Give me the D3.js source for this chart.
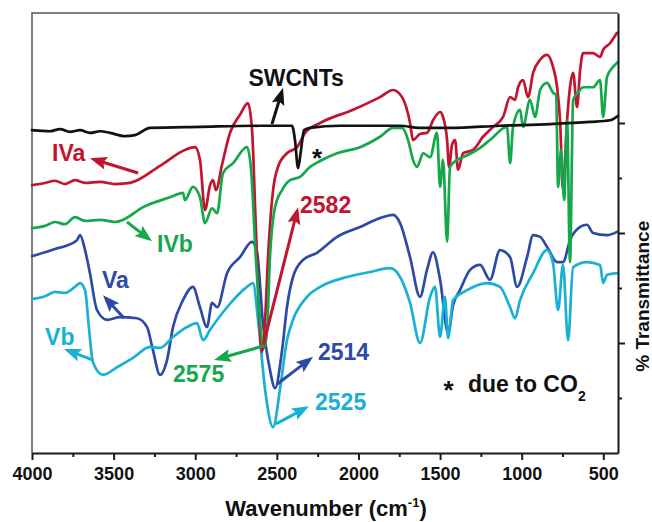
<!DOCTYPE html>
<html>
<head>
<meta charset="utf-8">
<script src="https://cdn.jsdelivr.net/npm/d3@7"></script>
<style>
  body { margin: 0; background: #fff; }
  svg { display: block; }
  text { font-family: "Liberation Sans", Arial, Helvetica, sans-serif; }
</style>
</head>
<body>
<script>
  // IR spectra: [wavenumber (cm-1), % transmittance (offset, arbitrary)]
  const swcnts = [[4000,58.7],[3890,58.5],[3828,58.9],[3767,58.4],[3706,58.7],[3645,58.2],[3583,58.5],[3522,58.2],
    [3430,57.6],[3369,57.8],[3277,59.1],[2971,59.3],[2603,59.5],[2407,59.5],[2389,56.9],[2370,51.8],[2352,55.1],
    [2333,58.7],[2297,59.1],[2113,59.5],[1745,59.5],[1623,59.1],[1439,59.1],[1133,59.5],[826,59.8],[581,60.2],
    [459,60.5],[410,61.3]];

  const iva = [[4000,48.7],[3920,49.1],[3859,49.5],[3798,48.9],[3737,49.6],[3675,49.1],[3583,49.3],[3491,48.9],
    [3400,49.1],[3216,52.2],[3063,55.1],[3001,55.6],[2971,53.3],[2940,44.2],[2909,48.7],[2891,49.6],[2873,47.8],
    [2836,52.4],[2787,58.2],[2726,61.5],[2677,63.6],[2652,58.7],[2628,40.5],[2591,18.4],[2572,24.2],[2554,35.6],
    [2523,47.8],[2493,52.0],[2438,54.5],[2376,55.6],[2327,58.2],[2235,60.0],[2033,62.4],[1868,64.7],[1788,66.0],
    [1733,64.7],[1684,60.0],[1666,56.9],[1623,58.0],[1580,58.2],[1543,60.5],[1500,62.0],[1482,61.1],[1457,56.9],
    [1445,52.0],[1427,56.0],[1408,56.9],[1390,51.5],[1359,54.5],[1298,55.1],[1237,57.5],[1175,59.3],[1114,61.1],
    [1071,64.7],[1041,64.2],[1022,66.5],[992,67.8],[961,64.7],[930,69.1],[887,71.5],[845,72.4],[808,70.2],
    [783,66.5],[765,60.5],[747,47.8],[722,60.5],[704,66.5],[685,69.1],[661,62.9],[642,69.6],[624,72.7],
    [563,72.7],[520,72.0],[501,73.3],[459,74.5],[416,76.4]];

  const ivb = [[4000,40.9],[3920,41.3],[3859,42.0],[3798,41.6],[3737,42.9],[3675,42.2],[3583,42.4],[3491,42.0],
    [3442,42.4],[3320,44.7],[3154,46.5],[3075,47.3],[3063,46.0],[3014,48.4],[2971,46.5],[2940,41.8],[2897,44.5],
    [2866,43.6],[2830,50.9],[2768,52.7],[2683,55.6],[2658,51.5],[2628,35.1],[2578,19.1],[2560,22.4],[2542,35.6],
    [2511,44.7],[2468,47.8],[2419,49.6],[2358,50.2],[2297,52.0],[2235,53.1],[2131,54.5],[1990,55.6],[1868,57.5],
    [1788,59.1],[1733,59.1],[1696,56.9],[1666,53.3],[1641,52.0],[1604,54.5],[1561,53.8],[1519,58.2],[1500,48.4],
    [1482,53.3],[1457,38.4],[1439,52.0],[1396,53.3],[1359,53.8],[1273,55.1],[1194,56.9],[1090,59.3],[1071,52.7],
    [1053,59.3],[1010,62.4],[992,59.3],[949,64.2],[918,61.1],[887,66.0],[845,67.3],[808,65.5],[789,65.1],
    [777,48.4],[759,55.1],[740,46.0],[722,60.5],[704,34.7],[685,64.2],[655,65.5],[624,66.5],[563,66.5],
    [520,67.8],[501,61.1],[477,68.4],[440,70.2],[410,71.1]];

  const va = [[4000,35.8],[3920,36.5],[3859,37.1],[3798,37.6],[3724,38.7],[3706,39.6],[3675,36.9],[3645,32.7],
    [3602,26.0],[3540,24.2],[3461,24.7],[3357,24.5],[3295,22.9],[3259,18.7],[3216,14.2],[3173,16.9],[3136,22.9],
    [3075,27.8],[3014,30.2],[2971,26.5],[2928,22.9],[2897,27.3],[2866,26.5],[2805,32.7],[2726,35.6],[2652,38.4],
    [2621,36.4],[2585,23.6],[2542,15.1],[2511,11.8],[2468,18.7],[2438,26.5],[2401,32.0],[2340,35.1],[2254,36.4],
    [2131,39.3],[1990,41.1],[1868,42.7],[1788,43.3],[1745,41.8],[1684,35.6],[1623,28.4],[1580,33.3],[1543,36.5],
    [1500,31.5],[1451,21.8],[1420,26.9],[1378,29.6],[1316,33.3],[1255,34.2],[1194,31.5],[1133,36.9],[1071,35.6],
    [1028,30.2],[967,35.6],[930,39.6],[887,39.3],[845,37.5],[783,34.7],[747,34.7],[704,38.7],[642,41.1],
    [600,41.5],[563,40.0],[477,39.6],[416,40.2]];

  const vb = [[4000,28.0],[3920,28.5],[3859,29.3],[3798,29.1],[3737,30.2],[3706,30.9],[3675,29.6],[3651,22.7],
    [3626,16.4],[3565,14.2],[3479,15.6],[3381,17.3],[3277,19.3],[3216,19.1],[3136,21.1],[3050,22.9],[2989,23.6],
    [2952,20.5],[2909,22.4],[2805,26.5],[2683,30.2],[2646,30.9],[2615,24.2],[2572,11.5],[2523,4.7],[2481,11.5],
    [2438,20.5],[2401,24.2],[2315,28.4],[2235,30.2],[2070,32.0],[1929,32.9],[1807,33.6],[1745,32.0],[1684,27.3],
    [1623,20.0],[1561,28.4],[1531,30.2],[1500,21.1],[1470,28.4],[1451,20.9],[1420,27.8],[1335,29.6],[1212,30.9],
    [1133,30.2],[1071,26.5],[1041,24.5],[1010,27.8],[930,32.7],[845,36.9],[808,34.5],[777,26.0],[747,34.2],
    [716,20.5],[685,33.8],[600,34.7],[520,34.2],[501,30.9],[477,32.4],[416,32.7]];

  const xTicks = [4000, 3500, 3000, 2500, 2000, 1500, 1000, 500];
  const xMinorTicks = [3750, 3250, 2750, 2250, 1750, 1250, 750];
  const yTicks = [20, 40, 60];
  const yMinorTicks = [10, 30, 50];

  // annotations: text, wavenumber, transmittance, series
  const labels = [
    {text: "SWCNTs", wn: 2382, t: 66.7, key: "swcnts", anchor: "middle"},
    {text: "IVa", wn: 3877, t: 53.1, key: "iva"},
    {text: "IVb", wn: 3234, t: 36.5, key: "ivb"},
    {text: "2582", wn: 2358, t: 43.6, key: "iva"},
    {text: "2575", wn: 3136, t: 12.9, key: "ivb"},
    {text: "2514", wn: 2248, t: 16.9, key: "va"},
    {text: "2525", wn: 2266, t: 7.8, key: "vb"},
    {text: "Va", wn: 3571, t: 30.0, key: "va"},
    {text: "Vb", wn: 3920, t: 19.6, key: "vb"}
  ];
  const arrows = [
    {from: [2530, 59.8], to: [2462, 66.4], key: "swcnts"},
    {from: [3350, 50.9], to: [3645, 53.6], key: "iva"},
    {from: [3418, 42.0], to: [3265, 38.5], key: "ivb"},
    {from: [2591, 18.7], to: [2370, 44.7], key: "iva"},
    {from: [2578, 19.5], to: [2885, 16.9], key: "ivb"},
    {from: [2499, 12.5], to: [2278, 17.5], key: "va"},
    {from: [2505, 5.3], to: [2303, 8.5], key: "vb"},
    {from: [3436, 24.5], to: [3565, 28.7], key: "va"},
    {from: [3626, 16.9], to: [3804, 18.9], key: "vb"}
  ];

  const colors = {swcnts: "#111111", iva: "#c3132f", ivb: "#14a84b", va: "#2c4aa6", vb: "#18b1d4"};

  var margin = {top: 13, right: 34, bottom: 69, left: 32},
      width = 652 - margin.left - margin.right,
      height = 522 - margin.top - margin.bottom;

  var svg = d3.select("body").append("svg")
      .attr("width", width + margin.left + margin.right)
      .attr("height", height + margin.top + margin.bottom)
    .append("g")
      .attr("transform", "translate(" + margin.left + "," + margin.top + ")");

  const x = d3.scaleLinear().domain([4000, 410]).range([0, width]);
  const y = d3.scaleLinear().domain([0, 80]).range([height, 0]);

  // frame (left + top)
  svg.append("path")
      .attr("d", "M0," + height + "V0H" + width)
      .attr("fill", "none")
      .attr("stroke", "#555")
      .attr("stroke-width", 1.5);

  const line = d3.line()
      .x(d => x(d[0]))
      .y(d => y(d[1]))
      .curve(d3.curveMonotoneX);

  const series = [["va", va], ["vb", vb], ["iva", iva], ["ivb", ivb], ["swcnts", swcnts]];
  series.forEach(([key, data]) => {
    svg.append("path")
        .datum(data)
        .attr("d", line)
        .attr("fill", "none")
        .attr("stroke", colors[key])
        .attr("stroke-width", 2.7)
        .attr("stroke-linejoin", "round")
        .attr("stroke-linecap", "round");
  });

  // bottom axis
  const xAxis = svg.append("g")
      .attr("transform", "translate(0," + height + ")")
      .call(d3.axisBottom(x).tickValues(xTicks).tickSize(7).tickSizeOuter(0).tickFormat(d3.format("d")));
  svg.append("g")
      .attr("transform", "translate(0," + height + ")")
      .call(d3.axisBottom(x).tickValues(xMinorTicks).tickSize(4).tickSizeOuter(0).tickFormat(""))
      .select(".domain").remove();
  xAxis.selectAll("text")
      .attr("y", 14)
      .attr("font-size", 18)
      .attr("font-weight", "bold")
      .attr("fill", "#111");

  // right axis
  svg.append("g")
      .attr("transform", "translate(" + width + ",0)")
      .call(d3.axisRight(y).tickValues(yTicks).tickSize(7).tickSizeOuter(0).tickFormat(""));
  svg.append("g")
      .attr("transform", "translate(" + width + ",0)")
      .call(d3.axisRight(y).tickValues(yMinorTicks).tickSize(4).tickSizeOuter(0).tickFormat(""))
      .select(".domain").remove();

  svg.selectAll(".domain, .tick line")
      .attr("stroke", "#1a1a1a")
      .attr("stroke-width", 2);

  // arrows
  arrows.forEach(a => {
    const x0 = x(a.from[0]), y0 = y(a.from[1]), x1 = x(a.to[0]), y1 = y(a.to[1]);
    const dx = x1 - x0, dy = y1 - y0, len = Math.hypot(dx, dy);
    const ux = dx / len, uy = dy / len;
    const hl = 17, hw = 6.5;
    const bx = x1 - ux * hl, by = y1 - uy * hl;
    svg.append("line")
        .attr("x1", x0).attr("y1", y0)
        .attr("x2", bx + ux * 4).attr("y2", by + uy * 4)
        .attr("stroke", colors[a.key])
        .attr("stroke-width", 3);
    svg.append("path")
        .attr("d", "M" + x1 + "," + y1 +
                   "L" + (bx - uy * hw) + "," + (by + ux * hw) +
                   "L" + (bx + ux * 3) + "," + (by + uy * 3) +
                   "L" + (bx + uy * hw) + "," + (by - ux * hw) + "Z")
        .attr("fill", colors[a.key]);
  });

  // labels
  labels.forEach(l => {
    svg.append("text")
        .attr("x", x(l.wn))
        .attr("y", y(l.t))
        .attr("text-anchor", l.anchor || "start")
        .attr("font-size", 23)
        .attr("font-weight", "bold")
        .attr("fill", colors[l.key])
        .text(l.text);
  });

  // CO2 notes
  svg.append("text")
      .attr("x", x(2254)).attr("y", y(52.0))
      .attr("text-anchor", "middle")
      .attr("font-size", 26).attr("font-weight", "bold")
      .attr("fill", "#111")
      .text("*");
  svg.append("text")
      .attr("x", x(1448)).attr("y", y(9.8))
      .attr("text-anchor", "middle")
      .attr("font-size", 26).attr("font-weight", "bold")
      .attr("fill", "#111")
      .text("*");
  const co2 = svg.append("text")
      .attr("x", x(1329)).attr("y", y(11.1))
      .attr("font-size", 23).attr("font-weight", "bold")
      .attr("fill", "#111")
      .text("due to CO");
  co2.append("tspan")
      .attr("font-size", 14)
      .attr("dy", 9)
      .text("2");

  // axis titles
  const xTitle = svg.append("text")
      .attr("x", width / 2 + 1)
      .attr("y", height + 63)
      .attr("text-anchor", "middle")
      .attr("font-size", 22)
      .attr("font-weight", "bold")
      .attr("fill", "#111")
      .text("Wavenumber (cm");
  xTitle.append("tspan").attr("font-size", 13).attr("dy", -9).text("-1");
  xTitle.append("tspan").attr("dy", 9).text(")");

  svg.append("text")
      .attr("transform", "translate(" + (width + 31) + "," + (y(28.5)) + ") rotate(-90)")
      .attr("text-anchor", "middle")
      .attr("font-size", 19)
      .attr("font-weight", "bold")
      .attr("fill", "#111")
      .text("% Transmittance");
</script>
</body>
</html>
